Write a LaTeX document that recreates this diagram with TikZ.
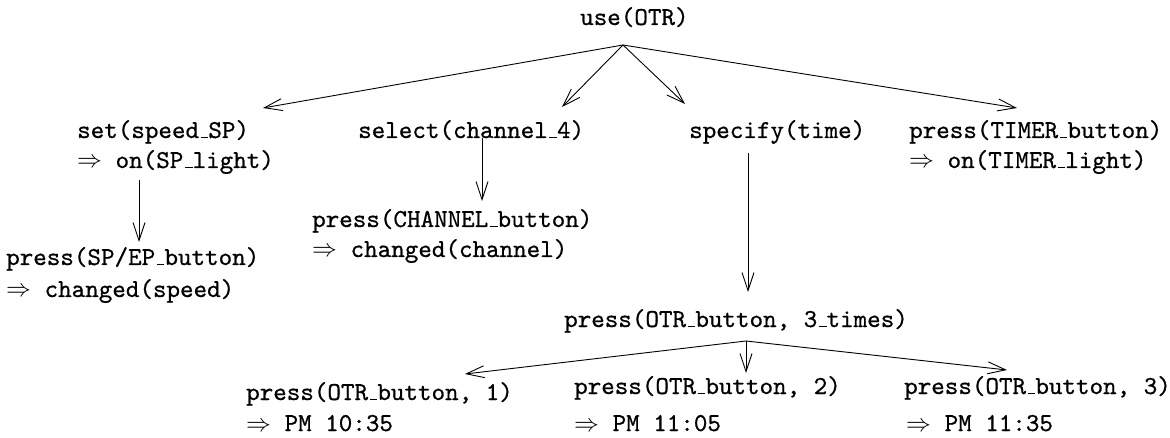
\documentclass[tikz,border=0pt]{standalone}
\usepackage{fontspec}
\newfontfamily\tfont{lmmono10-regular.otf}[FakeBold=0.6]
\usetikzlibrary{arrows.meta}
\newcommand\usc{\leavevmode\kern.06em\vbox{\hrule height 1.2pt width.3em}}
\newcommand\impl{$\Rightarrow$\ }
\tikzset{
  lbl/.style={inner sep=0pt, font=\tfont\fontsize{25.8}{30}\selectfont, anchor=base west},
  arr/.style={-{Straight Barb[length=18pt,width=12pt]}, line width=0.9pt}
}
\begin{document}
\begin{tikzpicture}[x=1pt,y=-1pt]
\useasboundingbox[fill=white] (0,0) rectangle (1170,438);
% nodes
\node[lbl] (use) at (580,25) {use(OTR)};
\node[lbl] (set) at (77,138) {set(speed\usc SP)};
\node[lbl] (setb) at (77,168) {\impl on(SP\usc light)};
\node[lbl] (sel) at (358,138) {select(channel\usc 4)};
\node[lbl] (spec) at (689,138) {specify(time)};
\node[lbl] (tim) at (909,138) {press(TIMER\usc button)};
\node[lbl] (timb) at (909,168) {\impl on(TIMER\usc light)};
\node[lbl] (chn) at (312,227) {press(CHANNEL\usc button)};
\node[lbl] (chnb) at (312,257) {\impl changed(channel)};
\node[lbl] (spep) at (6,265) {press(SP/EP\usc button)};
\node[lbl] (spepb) at (6,297) {\impl changed(speed)};
\node[lbl] (three) at (564,327) {press(OTR\usc button, 3\usc times)};
\node[lbl] (pa) at (246,400) {press(OTR\usc button, 1)};
\node[lbl] (pab) at (246,431) {\impl PM 10:35};
\node[lbl] (pb) at (574,394) {press(OTR\usc button, 2)};
\node[lbl] (pbb) at (574,431) {\impl PM 11:05};
\node[lbl] (pc) at (904,394) {press(OTR\usc button, 3)};
\node[lbl] (pcb) at (906,431) {\impl PM 11:35};
% hub and tip coordinates
\coordinate (useA) at (623,45);
\coordinate (tSet) at (263,108);
\coordinate (tSel) at (562,107);
\coordinate (tSpec) at (685,104);
\coordinate (tTim) at (1017,108);
\coordinate (sSet) at (139,180);
\coordinate (tSpep) at (139,242);
\coordinate (sSel) at (482,138);
\coordinate (tChn) at (482,201);
\coordinate (sSpec) at (748,153);
\coordinate (tThree) at (748,292);
\coordinate (threeA) at (746,341);
\coordinate (tPa) at (465,374);
\coordinate (tPb) at (746,373);
\coordinate (tPc) at (1007,370);
% connectors
\draw[arr] (useA) -- (tSet);
\draw[arr] (useA) -- (tSel);
\draw[arr] (useA) -- (tSpec);
\draw[arr] (useA) -- (tTim);
\draw[arr] (sSet) -- (tSpep);
\draw[arr] (sSel) -- (tChn);
\draw[arr] (sSpec) -- (tThree);
\draw[arr] (threeA) -- (tPa);
\draw[arr] (threeA) -- (tPb);
\draw[arr] (threeA) -- (tPc);
\end{tikzpicture}
\end{document}
